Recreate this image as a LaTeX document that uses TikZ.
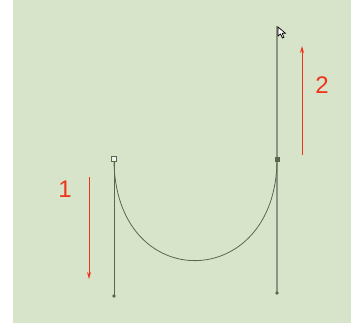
\documentclass[tikz,border=0pt]{standalone}
\usepackage{fontspec}
\setmainfont{Liberation Sans}
\usetikzlibrary{arrows.meta,shapes.geometric}
\definecolor{panel}{RGB}{215,228,201}
\definecolor{pathcol}{RGB}{88,104,80}
\definecolor{markred}{RGB}{240,52,28}

\begin{document}
\begin{tikzpicture}[x=1pt,y=-1pt]
    \useasboundingbox (0,0) rectangle (359,325);
    \fill[panel] (13,0) rectangle (351,323);
    % Anchors and handle ends.
        \coordinate (anchorL) at (114,159);
        \coordinate (handleL) at (114,296);
        \coordinate (anchorR) at (277,159);
        \coordinate (handleRup) at (277,26);
        \coordinate (handleRdn) at (277,293);
    % Handle lines.
        \draw[pathcol, line width=1pt] (anchorL) -- (handleL);
        \draw[pathcol!70, line width=1.2pt] (handleRup) -- (handleRdn);
    % The curve.
        \draw[pathcol, line width=0.8pt] (anchorL) .. controls (handleL) and (handleRdn) .. (anchorR);
    % Anchor points.
        \node[draw=pathcol, fill=panel!40, line width=0.7pt, inner sep=0pt, minimum size=5pt] (boxL) at (anchorL) {};
        \node[fill=pathcol, inner sep=0pt, minimum size=5pt] (boxR) at (anchorR) {};
        \foreach \h in {handleL,handleRdn}
            \node[fill=pathcol, diamond, inner sep=0pt, minimum size=4pt] at (\h) {};
    % Mouse pointer.
        \draw[fill=white, line width=0.7pt] (278,27) -- (278,36) -- (280.5,34) -- (282.5,38) -- (284,37.3) -- (282.2,33.3) -- (285.5,33.3) -- cycle;
    % Red arrows and numbers.
        \node[markred, font=\fontsize{24}{24}\selectfont] (numA) at (65,189) {1};
        \node[markred, font=\fontsize{24}{24}\selectfont] (numB) at (322,85) {2};
        \coordinate (arrAtop) at (89,177);
        \coordinate (arrAbot) at (89,279);
        \coordinate (arrBbot) at (302,155);
        \coordinate (arrBtop) at (302,46);
        \draw[markred, line width=1pt, -{Stealth[length=7pt,width=4pt]}] (arrAtop) -- (arrAbot);
        \draw[markred, line width=1pt, -{Stealth[length=7pt,width=4pt]}] (arrBbot) -- (arrBtop);
\end{tikzpicture}
\end{document}
